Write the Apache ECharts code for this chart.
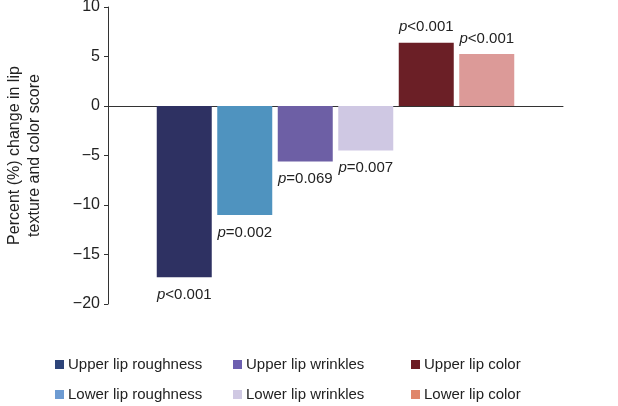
<!DOCTYPE html>
<html><head><meta charset="utf-8">
<script src="https://cdn.jsdelivr.net/npm/echarts@6/dist/echarts.min.js"></script>
<style>html,body{margin:0;padding:0;background:#fff}#c{width:618px;height:406px}</style>
</head><body><div id="c"></div>
<script>
const seriesNames = ['Upper lip roughness','Lower lip roughness','Upper lip wrinkles','Lower lip wrinkles','Upper lip color','Lower lip color'];
const values = [-17.3, -11.0, -5.6, -4.5, 6.4, 5.25];
const pLabels = ['<0.001', '=0.002', '=0.069', '=0.007', '<0.001', '<0.001'];
const barColors = ['#2e3162','#4f93bf','#6d5fa5','#cfc8e3','#6b1f26','#dc9a98'];
const legendColors = ['#2d4479','#6d9bd2','#6d5fb0','#d0c9e3','#6b1a22','#e0866a'];
const yTicks = {min: -20, max: 10, interval: 5};
const yTitle = 'Percent (%) change in lip\ntexture and color score';

const font = 'Liberation Sans, Arial, sans-serif';
const chart = echarts.init(document.getElementById('c'));
const series = seriesNames.map((n, i) => ({
  name: n, type: 'bar', data: [values[i]],
  barWidth: 55, barGap: '10%',
  itemStyle: {color: barColors[i]},
  label: {
    show: true, position: values[i] < 0 ? 'bottom' : 'top', distance: values[i] < 0 ? 10 : 8,
    formatter: '{i|p}' + pLabels[i],
    fontFamily: font, fontSize: 15, color: '#222',
    rich: {i: {fontStyle: 'italic', fontFamily: font, fontSize: 15, color: '#222'}}
  }
}));
const legendCols = [[0,1],[2,3],[4,5]];
const legendLefts = [55, 233, 411];
const legends = legendCols.map((col, k) => ({
  orient: 'vertical', left: legendLefts[k], top: 356, padding: 0, height: 50,
  itemWidth: 9, itemHeight: 9, itemGap: 13, icon: 'rect',
  selectedMode: false,
  textStyle: {fontFamily: font, fontSize: 15, color: '#222', lineHeight: 17, padding: [0,0,0,-1]},
  data: col.map(i => ({name: seriesNames[i], itemStyle: {color: legendColors[i]}}))
}));
chart.setOption({
  animation: false,
  grid: {left: 108, right: 55, top: 7, bottom: 102, containLabel: false, outerBoundsMode: 'none'},
  legend: legends,
  xAxis: {type: 'category', data: [''],
    axisLine: {onZero: true, lineStyle: {color: '#333', width: 1}},
    axisTick: {show: false}, axisLabel: {show: false}},
  yAxis: {type: 'value', min: yTicks.min, max: yTicks.max, interval: yTicks.interval,
    name: yTitle, nameLocation: 'middle', nameGap: 63,
    nameTextStyle: {fontFamily: font, fontSize: 16, color: '#222', lineHeight: 20},
    axisLine: {show: true, lineStyle: {color: '#333'}},
    axisTick: {show: true, length: 4, lineStyle: {color: '#333'}},
    splitLine: {show: false},
    axisLabel: {fontFamily: font, fontSize: 16, color: '#222', margin: 8,
      formatter: v => String(v).replace('-', '\u2212')}},
  series: series
});
</script></body></html>
